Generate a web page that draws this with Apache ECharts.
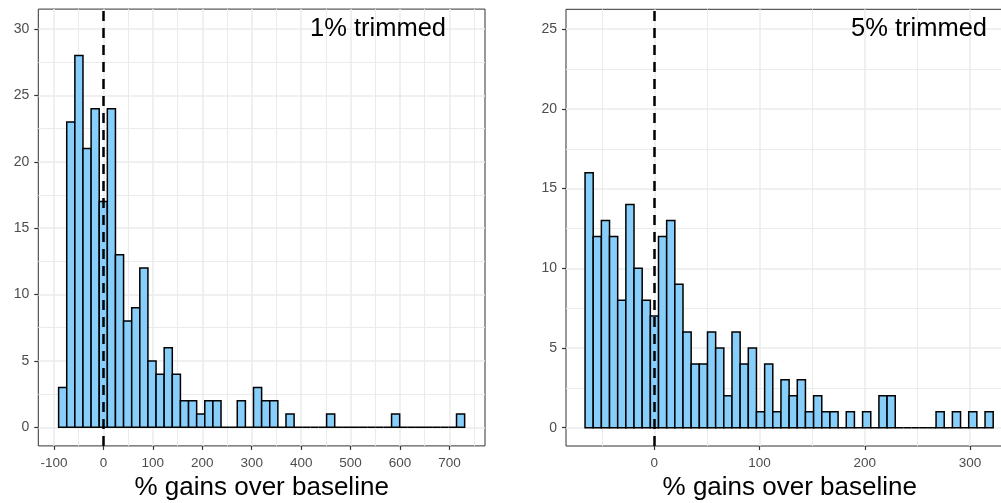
<!DOCTYPE html>
<html>
<head>
<meta charset="utf-8">
<script src="https://cdn.jsdelivr.net/npm/echarts@6/dist/echarts.min.js"></script>
<style>
html,body{margin:0;padding:0;background:#fff;}
#chart{width:1001px;height:503px;}
</style>
</head>
<body>
<div id="chart"></div>
<script>
// ---- data ----
const xAxisTitle = '% gains over baseline';
const panelLabels = ['1% trimmed', '5% trimmed'];
const refLineX = 0;

// Left panel (1% trimmed): 50 bins
const leftBinStart = -90.7;
const leftBinWidth = 16.43;
const leftCounts = [3, 23, 28, 21, 24, 17, 24, 13, 8, 9,
                    12, 5, 4, 6, 4, 2, 2, 1, 2, 2,
                    0, 0, 2, 0, 3, 2, 2, 0, 1, 0,
                    0, 0, 0, 1, 0, 0, 0, 0, 0, 0,
                    0, 1, 0, 0, 0, 0, 0, 0, 0, 1];
const leftXRange = [-131.8, 772];
const leftYRange = [-1.4, 31.5];
const leftXTicks = [-100, 0, 100, 200, 300, 400, 500, 600, 700];
const leftXMinor = [-50, 50, 150, 250, 350, 450, 550, 650, 750];
const leftYTicks = [0, 5, 10, 15, 20, 25, 30];
const leftYMinor = [2.5, 7.5, 12.5, 17.5, 22.5, 27.5];

// Right panel (5% trimmed): 50 bins
const rightBinStart = -65.9;
const rightBinWidth = 7.76;
const rightCounts = [16, 12, 13, 12, 8, 14, 10, 8, 7, 12,
                     13, 9, 6, 4, 4, 6, 5, 2, 6, 4,
                     5, 1, 4, 1, 3, 2, 3, 1, 2, 1,
                     1, 0, 1, 0, 1, 0, 2, 2, 0, 0,
                     0, 0, 0, 1, 0, 1, 0, 1, 0, 1];
const rightXRange = [-84, 341.4];
const rightYRange = [-1.15, 26.25];
const rightXTicks = [0, 100, 200, 300];
const rightXMinor = [-50, 50, 150, 250];
const rightYTicks = [0, 5, 10, 15, 20, 25];
const rightYMinor = [2.5, 7.5, 12.5, 17.5, 22.5];

// ---- build ----
const FONT = '"Liberation Sans", Arial, sans-serif';
const GRID_MAJOR = '#EBEBEB';

function bins(start, width, counts) {
  return counts.map((c, i) => [start + i * width, start + (i + 1) * width, c]);
}

function renderBar(params, api) {
  const x0 = api.value(0), x1 = api.value(1), y = api.value(2);
  const p0 = api.coord([x0, y]);
  const p1 = api.coord([x1, 0]);
  return {
    type: 'rect',
    shape: {x: p0[0], y: p0[1], width: p1[0] - p0[0], height: p1[1] - p0[1]},
    style: {fill: y > 0 ? '#87CEFA' : 'none', stroke: '#000', lineWidth: 1.5}
  };
}

function majorX(gridIndex, range, ticks) {
  return {
    type: 'value', gridIndex, min: range[0], max: range[1], position: 'bottom',
    axisLine: {show: false, onZero: false},
    axisTick: {show: true, length: 4, lineStyle: {color: '#333', width: 1.2}, customValues: ticks},
    axisLabel: {show: true, customValues: ticks, margin: 10, color: '#4D4D4D', fontSize: 13.5, fontFamily: FONT},
    splitLine: {show: true, lineStyle: {color: GRID_MAJOR, width: 1.5}},
    minorTick: {show: false}, minorSplitLine: {show: false},
    name: xAxisTitle, nameLocation: 'middle', nameGap: 22,
    nameTextStyle: {color: '#000', fontSize: 26, fontFamily: FONT}
  };
}
function minorX(gridIndex, range, ticks) {
  return {
    type: 'value', gridIndex, min: range[0], max: range[1], position: 'bottom',
    axisLine: {show: false, onZero: false},
    axisTick: {show: false, customValues: ticks},
    axisLabel: {show: false},
    splitLine: {show: true, lineStyle: {color: GRID_MAJOR, width: 1}}
  };
}
function majorY(gridIndex, range, ticks) {
  return {
    type: 'value', gridIndex, min: range[0], max: range[1], position: 'left',
    axisLine: {show: false, onZero: false},
    axisTick: {show: true, length: 4, lineStyle: {color: '#333', width: 1.2}, customValues: ticks},
    axisLabel: {show: true, customValues: ticks, margin: 9, color: '#4D4D4D', fontSize: 14, fontFamily: FONT},
    splitLine: {show: true, lineStyle: {color: GRID_MAJOR, width: 1.5}},
    minorTick: {show: false}, minorSplitLine: {show: false}
  };
}
function minorY(gridIndex, range, ticks) {
  return {
    type: 'value', gridIndex, min: range[0], max: range[1], position: 'left',
    axisLine: {show: false, onZero: false},
    axisTick: {show: false, customValues: ticks},
    axisLabel: {show: false},
    splitLine: {show: true, lineStyle: {color: GRID_MAJOR, width: 1}}
  };
}

const vlineStyle = {color: '#000', type: [10, 7], width: 2.5};

const option = {
  animation: false,
  backgroundColor: '#fff',
  grid: [
    {left: 38.3, top: 9.1, width: 446.7, height: 436.8, show: true, borderColor: '#333', borderWidth: 1, backgroundColor: '#fff', containLabel: false, outerBoundsMode: 'none'},
    {left: 566, top: 9.3, width: 447.5, height: 436.7, show: true, borderColor: '#333', borderWidth: 1, backgroundColor: '#fff', containLabel: false, outerBoundsMode: 'none'}
  ],
  xAxis: [
    majorX(0, leftXRange, leftXTicks),
    minorX(0, leftXRange, leftXMinor),
    majorX(1, rightXRange, rightXTicks),
    minorX(1, rightXRange, rightXMinor)
  ],
  yAxis: [
    majorY(0, leftYRange, leftYTicks),
    minorY(0, leftYRange, leftYMinor),
    majorY(1, rightYRange, rightYTicks),
    minorY(1, rightYRange, rightYMinor)
  ],
  series: [
    {type: 'custom', xAxisIndex: 0, yAxisIndex: 0, renderItem: renderBar,
     encode: {x: [0, 1], y: 2}, data: bins(leftBinStart, leftBinWidth, leftCounts), silent: true},
    {type: 'custom', xAxisIndex: 2, yAxisIndex: 2, renderItem: renderBar,
     encode: {x: [0, 1], y: 2}, data: bins(rightBinStart, rightBinWidth, rightCounts), silent: true},
    {type: 'line', xAxisIndex: 0, yAxisIndex: 0, data: [], silent: true,
     markLine: {silent: true, symbol: 'none', label: {show: false}, lineStyle: vlineStyle, data: [{xAxis: refLineX}]}},
    {type: 'line', xAxisIndex: 2, yAxisIndex: 2, data: [], silent: true,
     markLine: {silent: true, symbol: 'none', label: {show: false}, lineStyle: vlineStyle, data: [{xAxis: refLineX}]}}
  ],
  graphic: [
    {type: 'text', x: 446, y: 29, z: 100, style: {text: panelLabels[0], fill: '#000', font: '25.5px ' + FONT, align: 'right', verticalAlign: 'middle', textAlign: 'right', textVerticalAlign: 'middle'}},
    {type: 'text', x: 987, y: 29, z: 100, style: {text: panelLabels[1], fill: '#000', font: '25.5px ' + FONT, align: 'right', verticalAlign: 'middle', textAlign: 'right', textVerticalAlign: 'middle'}}
  ]
};

const chart = echarts.init(document.getElementById('chart'), null, {renderer: 'canvas'});
chart.setOption(option);
</script>
</body>
</html>
